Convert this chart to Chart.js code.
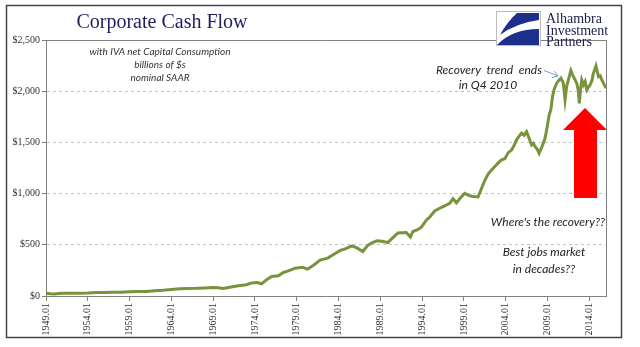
<!DOCTYPE html>
<html>
<head>
<meta charset="utf-8">
<script src="https://cdn.jsdelivr.net/npm/chart.js@4.4.1/dist/chart.umd.min.js"></script>
<style>
  html, body { margin: 0; padding: 0; background: #fff; }
  #wrap { width: 640px; height: 347px; }
</style>
</head>
<body>
<div id="wrap"><canvas id="cashChart" width="640" height="347"></canvas></div>
<script>
// Corporate cash flow, with IVA net capital consumption, billions of $, nominal SAAR
const years = [
  1949.0, 1949.5, 1950.0, 1950.5, 1951.0, 1952.0, 1953.0, 1954.0, 1955.0, 1956.0,
  1957.0, 1958.0, 1959.0, 1960.0, 1961.0, 1962.0, 1963.0, 1964.0, 1965.0, 1966.0,
  1967.0, 1968.0, 1969.0, 1969.6, 1970.2, 1971.0, 1972.0, 1973.0, 1973.6, 1974.3,
  1974.8, 1975.4, 1976.0, 1976.8, 1977.4, 1978.0, 1978.8, 1979.7, 1980.3, 1981.0,
  1981.8, 1982.7, 1983.5, 1984.2, 1984.8, 1985.6, 1986.2, 1986.9, 1987.5, 1988.0,
  1988.6, 1989.2, 1989.9, 1990.5, 1991.1, 1992.1, 1992.6, 1992.9, 1993.4, 1993.9,
  1994.5, 1994.9, 1995.5, 1996.1, 1996.7, 1997.3, 1997.7, 1998.1, 1998.6, 1999.1,
  1999.5, 1999.9, 2000.7, 2001.1, 2001.5, 2001.9, 2002.3, 2002.7, 2003.1, 2003.5,
  2003.9, 2004.3, 2004.7, 2005.0, 2005.3, 2005.6, 2005.9, 2006.2, 2006.5, 2006.8,
  2007.1, 2007.3, 2007.5, 2007.8, 2008.0, 2008.3, 2008.5, 2008.7, 2008.9, 2009.2,
  2009.4, 2009.6, 2009.8, 2010.1, 2010.4, 2010.6, 2010.9, 2011.1, 2011.3, 2011.5,
  2011.8, 2012.0, 2012.2, 2012.5, 2012.7, 2012.8, 2013.0, 2013.1, 2013.3, 2013.5,
  2013.7, 2013.9, 2014.1, 2014.3, 2014.5, 2014.8, 2015.1, 2015.3, 2015.5, 2015.8,
  2016.0
];
const cashFlow = [
  28, 22, 20, 24, 26, 27, 28, 30, 34, 35,
  37, 37, 42, 43, 45, 52, 56, 64, 70, 74,
  75, 78, 82, 80, 73, 86, 100, 110, 128, 132,
  118, 160, 190, 198, 230, 245, 272, 280, 262, 300,
  350, 370, 410, 445, 460, 490, 470, 435, 495, 520,
  540, 535, 522, 570, 615, 620, 575, 630, 645, 670,
  740, 770, 830, 857, 880, 905, 950, 910, 960, 1003,
  985, 975, 968, 1050, 1130, 1190, 1230, 1265, 1300, 1330,
  1340, 1400, 1425, 1470, 1525, 1560, 1590, 1570, 1605, 1540,
  1475, 1490, 1460, 1430, 1394, 1450, 1492, 1540, 1622, 1768,
  1820, 1947, 2020, 2078, 2110, 2127, 2078, 1915, 2050, 2110,
  2201, 2160, 2127, 2078, 2000, 1882, 2050, 2110, 2062, 2094,
  2013, 2040, 2062, 2100, 2176, 2247, 2143, 2150, 2110, 2062,
  2032
];
const tickYears = [1949, 1954, 1959, 1964, 1969, 1974, 1979, 1984, 1989, 1994, 1999, 2004, 2009, 2014];
const yTicks = [0, 500, 1000, 1500, 2000, 2500];
const titleText = 'Corporate Cash Flow';
const noteLines = ['with IVA net Capital Consumption', 'billions of $s', 'nominal SAAR'];
const recoveryLines = ['Recovery  trend  ends', 'in Q4 2010'];
const questionLines = ["Where's the recovery??", 'Best jobs market', 'in decades??'];
const logoLines = ['Alhambra', 'Investment', 'Partners'];

const points = years.map((y, i) => ({ x: y, y: cashFlow[i] }));

const overlay = {
  id: 'overlay',
  beforeDraw(chart) {
    const ctx = chart.ctx;
    ctx.save();
    ctx.fillStyle = '#fff';
    ctx.fillRect(0, 0, chart.width, chart.height);
    ctx.restore();
  },
  afterDraw(chart) {
    const ctx = chart.ctx;
    const a = chart.chartArea;
    ctx.save();

    // plot frame: top and right
    ctx.strokeStyle = '#808080';
    ctx.lineWidth = 1;
    ctx.beginPath();
    ctx.moveTo(a.left, a.top + 0.5);
    ctx.lineTo(a.right + 0.5, a.top + 0.5);
    ctx.lineTo(a.right + 0.5, a.bottom);
    ctx.stroke();

    // outer border
    ctx.strokeStyle = '#444';
    ctx.lineWidth = 1.5;
    ctx.strokeRect(6.5, 5.5, 615, 332);

    // title
    ctx.fillStyle = '#1f1f5c';
    ctx.font = '20px "Liberation Serif", serif';
    ctx.textAlign = 'center';
    ctx.textBaseline = 'alphabetic';
    ctx.fillText(titleText, 162, 28);

    // note under title
    ctx.fillStyle = '#333';
    ctx.font = 'italic 10px Lato, "Liberation Sans", sans-serif';
    noteLines.forEach((t, i) => ctx.fillText(t, 160, 55 + i * 13));

    // recovery annotation
    ctx.fillStyle = '#222';
    ctx.font = 'italic 12px Lato, "Liberation Sans", sans-serif';
    ctx.fillText(recoveryLines[0], 489, 74);
    ctx.fillText(recoveryLines[1], 488, 89);

    // small blue pointer arrow
    ctx.strokeStyle = '#7a9cd0';
    ctx.lineWidth = 1;
    ctx.beginPath();
    ctx.moveTo(544, 70.5);
    ctx.lineTo(558, 76);
    ctx.moveTo(558, 76);
    ctx.lineTo(552, 77.5);
    ctx.moveTo(558, 76);
    ctx.lineTo(554, 71);
    ctx.stroke();

    // question texts
    ctx.fillStyle = '#222';
    ctx.font = 'italic 12px Lato, "Liberation Sans", sans-serif';
    ctx.textAlign = 'right';
    ctx.fillText(questionLines[0], 605, 226);
    ctx.textAlign = 'center';
    ctx.fillText(questionLines[1], 544, 256);
    ctx.fillText(questionLines[2], 544, 273);

    // big red arrow
    ctx.fillStyle = '#ff0000';
    ctx.beginPath();
    ctx.moveTo(585, 108);
    ctx.lineTo(607, 130);
    ctx.lineTo(597, 130);
    ctx.lineTo(597, 198);
    ctx.lineTo(574, 198);
    ctx.lineTo(574, 130);
    ctx.lineTo(563, 130);
    ctx.closePath();
    ctx.fill();

    // logo
    ctx.fillStyle = '#fff';
    ctx.fillRect(494, 8, 124, 31);
    ctx.strokeStyle = '#bbb';
    ctx.lineWidth = 1;
    ctx.strokeRect(496.5, 11.5, 44, 34);
    ctx.fillStyle = '#fff';
    ctx.fillRect(497, 12, 43, 33);
    ctx.fillStyle = '#1c2f8c';
    ctx.beginPath();
    ctx.moveTo(517, 13);
    ctx.lineTo(539, 13);
    ctx.lineTo(539, 20);
    ctx.quadraticCurveTo(516, 23, 500, 35);
    ctx.quadraticCurveTo(507, 22, 517, 13);
    ctx.closePath();
    ctx.fill();
    ctx.beginPath();
    ctx.moveTo(497, 45);
    ctx.lineTo(539, 45);
    ctx.lineTo(539, 29);
    ctx.quadraticCurveTo(512, 29, 497, 45);
    ctx.closePath();
    ctx.fill();

    ctx.fillStyle = '#1a1a4a';
    ctx.font = '14px "Liberation Serif", serif';
    ctx.textAlign = 'left';
    logoLines.forEach((t, i) => ctx.fillText(t, 546, 23 + i * 11.5));

    ctx.restore();
  }
};

document.addEventListener('DOMContentLoaded', function () {
  const ctx = document.getElementById('cashChart').getContext('2d');
  const cashChart = new Chart(ctx, {
    type: 'line',
    data: {
      datasets: [{
        label: 'Corporate Cash Flow',
        data: points,
        borderColor: '#77933c',
        borderWidth: 3,
        pointRadius: 0,
        tension: 0,
        fill: false
      }]
    },
    options: {
      responsive: false,
      animation: false,
      layout: { padding: { left: 6, right: 34, top: 40, bottom: 0 } },
      plugins: {
        legend: { display: false },
        tooltip: { enabled: false }
      },
      scales: {
        x: {
          type: 'linear',
          min: 1949,
          max: 2016,
          afterBuildTicks: scale => { scale.ticks = tickYears.map(v => ({ value: v })); },
          afterFit: scale => { scale.height = 51; },
          grid: {
            drawOnChartArea: false,
            drawTicks: true,
            tickLength: 5,
            color: '#808080'
          },
          border: { color: '#808080', width: 1 },
          ticks: {
            autoSkip: false,
            minRotation: 90,
            maxRotation: 90,
            padding: 2,
            color: '#333',
            font: { family: '"Liberation Serif", serif', size: 10 },
            callback: v => v + '.01'
          }
        },
        y: {
          min: 0,
          max: 2500,
          afterBuildTicks: scale => { scale.ticks = yTicks.map(v => ({ value: v })); },
          afterFit: scale => { scale.width = 40; },
          grid: {
            color: '#c4c4c4',
            tickColor: '#808080',
            tickLength: 4
          },
          border: { color: '#808080', width: 1, dash: [3, 3] },
          ticks: {
            padding: 2,
            color: '#333',
            font: { family: '"Liberation Serif", serif', size: 10 },
            callback: v => '$' + v.toLocaleString('en-US')
          }
        }
      }
    },
    plugins: [overlay]
  });
});
</script>
</body>
</html>
